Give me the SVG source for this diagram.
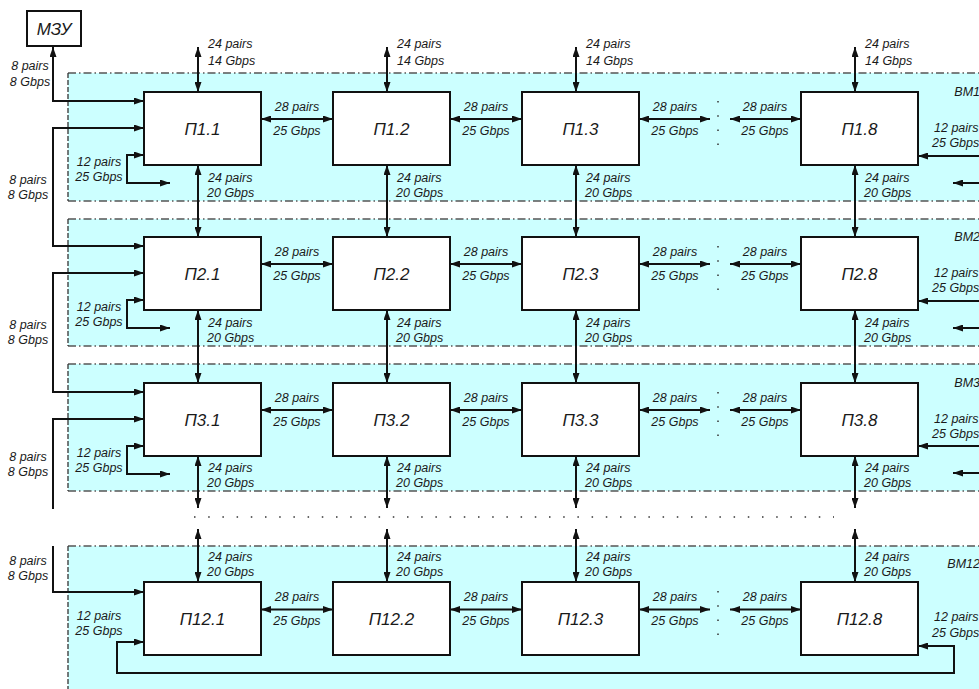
<svg xmlns="http://www.w3.org/2000/svg" width="979" height="689" viewBox="0 0 979 689">
<style>
.band{fill:#ccffff;stroke:none}
.bh{fill:none;stroke:#555;stroke-width:1.3;stroke-dasharray:8 3 1.5 3}
.bv{fill:none;stroke:#333;stroke-width:1.3;stroke-dasharray:5 2}
.box{fill:#fff;stroke:#111;stroke-width:2}
.ca{fill:none;stroke:#111;stroke-width:2;marker-start:url(#ah);marker-end:url(#ah)}
.ce{fill:none;stroke:#111;stroke-width:2;marker-end:url(#ah)}
.cs{fill:none;stroke:#111;stroke-width:2;marker-start:url(#ah)}
.dots{fill:none;stroke:#333;stroke-width:1.5;stroke-dasharray:1.5 12.7}
text{font-family:"Liberation Sans",Arial,sans-serif;font-style:italic;fill:#1a1a1a}
.s{font-size:12.5px}
.m{text-anchor:middle}
.n{font-size:17px;text-anchor:middle}
</style>
<defs>
<marker id="ah" viewBox="0 0 10 7" refX="10" refY="3.5" markerWidth="10" markerHeight="7" markerUnits="userSpaceOnUse" orient="auto-start-reverse">
<path d="M0,0 L10,3.5 L0,7 z" fill="#111"/>
</marker>
</defs>

<g id="bands">
<rect class="band" x="68" y="73" width="920" height="128"/>
<rect class="band" x="68" y="219" width="920" height="127"/>
<rect class="band" x="68" y="364" width="920" height="127"/>
<rect class="band" x="68" y="546" width="920" height="150"/>
<path class="bh" d="M68,73 H985 M68,201 H985 M68,219 H985 M68,346 H985 M68,364 H985 M68,491 H985 M68,546 H985"/>
<path class="bv" d="M68,73 V201 M68,219 V346 M68,364 V491 M68,546 V692"/>
<text class="s" x="980" y="96" text-anchor="end">BM1</text>
<text class="s" x="980" y="241" text-anchor="end">BM2</text>
<text class="s" x="980" y="387" text-anchor="end">BM3</text>
<text class="s" x="980" y="568" text-anchor="end">BM12</text>
</g>

<g id="connectors">
<path class="ca" d="M198,47 V92"/>
<path class="ca" d="M387,47 V92"/>
<path class="ca" d="M576,47 V92"/>
<path class="ca" d="M855,47 V92"/>
<path class="ca" d="M198,165 V237"/>
<path class="ca" d="M387,165 V237"/>
<path class="ca" d="M576,165 V237"/>
<path class="ca" d="M855,165 V237"/>
<path class="ca" d="M198,310 V383"/>
<path class="ca" d="M387,310 V383"/>
<path class="ca" d="M576,310 V383"/>
<path class="ca" d="M855,310 V383"/>
<path class="ca" d="M198,456 V508"/>
<path class="ca" d="M387,456 V508"/>
<path class="ca" d="M576,456 V508"/>
<path class="ca" d="M855,456 V508"/>
<path class="ca" d="M198,529 V582"/>
<path class="ca" d="M387,529 V582"/>
<path class="ca" d="M576,529 V582"/>
<path class="ca" d="M855,529 V582"/>
<path class="ca" d="M261,119 H333"/><path class="ca" d="M450,119 H522"/><path class="ca" d="M639,119 H710"/><path class="ca" d="M730,119 H801"/>
<path class="ca" d="M261,264 H333"/><path class="ca" d="M450,264 H522"/><path class="ca" d="M639,264 H710"/><path class="ca" d="M730,264 H801"/>
<path class="ca" d="M261,410 H333"/><path class="ca" d="M450,410 H522"/><path class="ca" d="M639,410 H710"/><path class="ca" d="M730,410 H801"/>
<path class="ca" d="M261,609.5 H333"/><path class="ca" d="M450,609.5 H522"/><path class="ca" d="M639,609.5 H710"/><path class="ca" d="M730,609.5 H801"/>
<path class="dots" d="M718,101 V147"/>
<path class="dots" d="M718,246 V292"/>
<path class="dots" d="M718,392 V438"/>
<path class="dots" d="M718,591 V637"/>
<path class="dots" d="M194,517 H834"/>
<path class="ca" d="M144,101 H53 V47"/>
<path class="ca" d="M144,128 H53 V246 H144"/>
<path class="ca" d="M144,273 H53 V392 H144"/>
<path class="cs" d="M144,419 H53 V509"/>
<path class="ce" d="M53,546 V592 H144"/>
<path class="ca" d="M144,155 H127 V183 H170"/>
<path class="ca" d="M144,300 H127 V328 H170"/>
<path class="ca" d="M144,446 H127 V474 H170"/>
<path class="ce" d="M985,156 H918"/>
<path class="ce" d="M985,183 H953"/>
<path class="ce" d="M985,301 H918"/>
<path class="ce" d="M985,328 H953"/>
<path class="ce" d="M985,446 H918"/>
<path class="ce" d="M985,473 H953"/>
<path class="ca" d="M144,642 H117 V673 H954 V646 H918"/>
</g>

<g id="labels">
<g class="s">
<text x="208" y="48">24 pairs</text><text x="208" y="65">14 Gbps</text>
<text x="397" y="48">24 pairs</text><text x="397" y="65">14 Gbps</text>
<text x="586" y="48">24 pairs</text><text x="586" y="65">14 Gbps</text>
<text x="865" y="48">24 pairs</text><text x="865" y="65">14 Gbps</text>

<text x="208" y="182">24 pairs</text><text x="207" y="197">20 Gbps</text>
<text x="397" y="182">24 pairs</text><text x="396" y="197">20 Gbps</text>
<text x="586" y="182">24 pairs</text><text x="585" y="197">20 Gbps</text>
<text x="865" y="182">24 pairs</text><text x="864" y="197">20 Gbps</text>

<text x="208" y="327">24 pairs</text><text x="207" y="342">20 Gbps</text>
<text x="397" y="327">24 pairs</text><text x="396" y="342">20 Gbps</text>
<text x="586" y="327">24 pairs</text><text x="585" y="342">20 Gbps</text>
<text x="865" y="327">24 pairs</text><text x="864" y="342">20 Gbps</text>

<text x="208" y="472">24 pairs</text><text x="207" y="487">20 Gbps</text>
<text x="397" y="472">24 pairs</text><text x="396" y="487">20 Gbps</text>
<text x="586" y="472">24 pairs</text><text x="585" y="487">20 Gbps</text>
<text x="865" y="472">24 pairs</text><text x="864" y="487">20 Gbps</text>

<text x="208" y="561">24 pairs</text><text x="207" y="576">20 Gbps</text>
<text x="397" y="561">24 pairs</text><text x="396" y="576">20 Gbps</text>
<text x="586" y="561">24 pairs</text><text x="585" y="576">20 Gbps</text>
<text x="865" y="561">24 pairs</text><text x="864" y="576">20 Gbps</text>
</g>
<g class="s m">
<text x="297" y="111">28 pairs</text><text x="297" y="135">25 Gbps</text>
<text x="486" y="111">28 pairs</text><text x="486" y="135">25 Gbps</text>
<text x="675" y="111">28 pairs</text><text x="675" y="135">25 Gbps</text>
<text x="765" y="111">28 pairs</text><text x="765" y="135">25 Gbps</text>

<text x="297" y="256">28 pairs</text><text x="297" y="280">25 Gbps</text>
<text x="486" y="256">28 pairs</text><text x="486" y="280">25 Gbps</text>
<text x="675" y="256">28 pairs</text><text x="675" y="280">25 Gbps</text>
<text x="765" y="256">28 pairs</text><text x="765" y="280">25 Gbps</text>

<text x="297" y="402">28 pairs</text><text x="297" y="426">25 Gbps</text>
<text x="486" y="402">28 pairs</text><text x="486" y="426">25 Gbps</text>
<text x="675" y="402">28 pairs</text><text x="675" y="426">25 Gbps</text>
<text x="765" y="402">28 pairs</text><text x="765" y="426">25 Gbps</text>

<text x="297" y="601">28 pairs</text><text x="297" y="625">25 Gbps</text>
<text x="486" y="601">28 pairs</text><text x="486" y="625">25 Gbps</text>
<text x="675" y="601">28 pairs</text><text x="675" y="625">25 Gbps</text>
<text x="765" y="601">28 pairs</text><text x="765" y="625">25 Gbps</text>

<text x="30" y="70">8 pairs</text><text x="30" y="86">8 Gbps</text>
<text x="28" y="184">8 pairs</text><text x="28" y="199">8 Gbps</text>
<text x="28" y="329">8 pairs</text><text x="28" y="344">8 Gbps</text>
<text x="28" y="461">8 pairs</text><text x="28" y="476">8 Gbps</text>
<text x="28" y="565">8 pairs</text><text x="28" y="580">8 Gbps</text>

<text x="99" y="166">12 pairs</text><text x="99" y="181">25 Gbps</text>
<text x="99" y="311">12 pairs</text><text x="99" y="326">25 Gbps</text>
<text x="99" y="457">12 pairs</text><text x="99" y="472">25 Gbps</text>
<text x="99" y="620">12 pairs</text><text x="99" y="635">25 Gbps</text>
</g>
<g class="s">
<text x="934" y="132">12 pairs</text><text x="932" y="147">25 Gbps</text>
<text x="934" y="277">12 pairs</text><text x="932" y="292">25 Gbps</text>
<text x="934" y="423">12 pairs</text><text x="932" y="438">25 Gbps</text>
<text x="934" y="621">12 pairs</text><text x="932" y="637">25 Gbps</text>
</g>
</g>

<g id="mzu"><rect class="box" x="27" y="11" width="54" height="35"/><text x="54" y="34.5" font-size="17" text-anchor="middle">МЗУ</text></g>

<g id="p1-1"><rect class="box" x="144" y="92" width="117" height="73"/><text class="n" x="202.5" y="134.5">П1.1</text></g>
<g id="p1-2"><rect class="box" x="333" y="92" width="117" height="73"/><text class="n" x="391.5" y="134.5">П1.2</text></g>
<g id="p1-3"><rect class="box" x="522" y="92" width="117" height="73"/><text class="n" x="580.5" y="134.5">П1.3</text></g>
<g id="p1-8"><rect class="box" x="801" y="92" width="117" height="73"/><text class="n" x="859.5" y="134.5">П1.8</text></g>

<g id="p2-1"><rect class="box" x="144" y="237" width="117" height="73"/><text class="n" x="202.5" y="279.5">П2.1</text></g>
<g id="p2-2"><rect class="box" x="333" y="237" width="117" height="73"/><text class="n" x="391.5" y="279.5">П2.2</text></g>
<g id="p2-3"><rect class="box" x="522" y="237" width="117" height="73"/><text class="n" x="580.5" y="279.5">П2.3</text></g>
<g id="p2-8"><rect class="box" x="801" y="237" width="117" height="73"/><text class="n" x="859.5" y="279.5">П2.8</text></g>

<g id="p3-1"><rect class="box" x="144" y="383" width="117" height="73"/><text class="n" x="202.5" y="425.5">П3.1</text></g>
<g id="p3-2"><rect class="box" x="333" y="383" width="117" height="73"/><text class="n" x="391.5" y="425.5">П3.2</text></g>
<g id="p3-3"><rect class="box" x="522" y="383" width="117" height="73"/><text class="n" x="580.5" y="425.5">П3.3</text></g>
<g id="p3-8"><rect class="box" x="801" y="383" width="117" height="73"/><text class="n" x="859.5" y="425.5">П3.8</text></g>

<g id="p12-1"><rect class="box" x="144" y="582" width="117" height="73"/><text class="n" x="202.5" y="624.5">П12.1</text></g>
<g id="p12-2"><rect class="box" x="333" y="582" width="117" height="73"/><text class="n" x="391.5" y="624.5">П12.2</text></g>
<g id="p12-3"><rect class="box" x="522" y="582" width="117" height="73"/><text class="n" x="580.5" y="624.5">П12.3</text></g>
<g id="p12-8"><rect class="box" x="801" y="582" width="117" height="73"/><text class="n" x="859.5" y="624.5">П12.8</text></g>
</svg>
